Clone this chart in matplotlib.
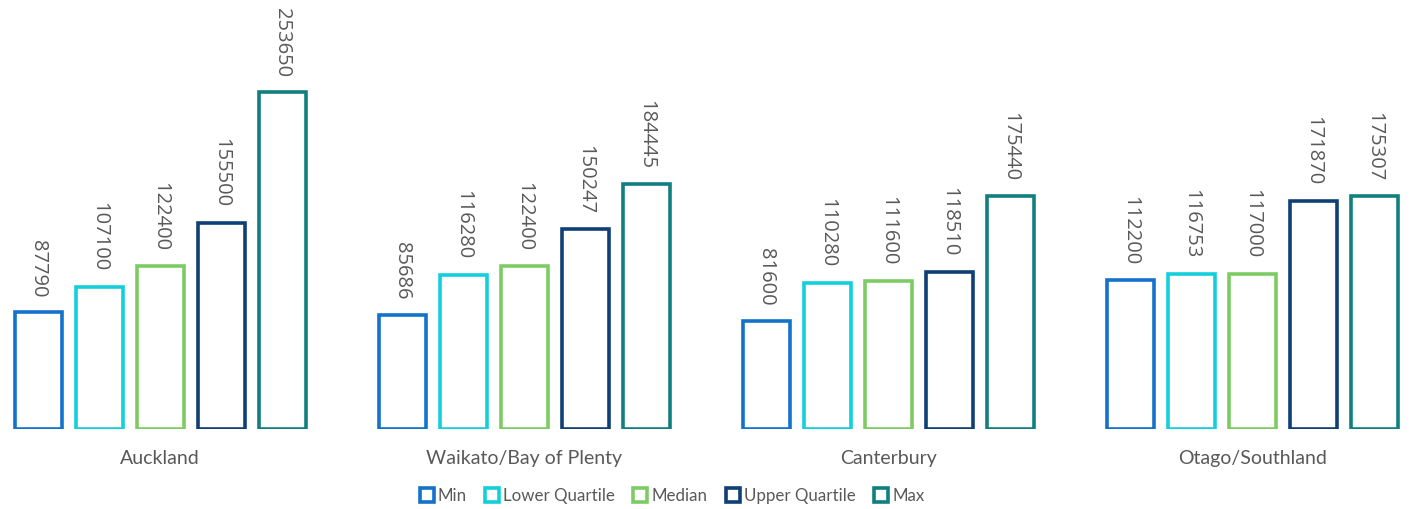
import numpy as np
import matplotlib.pyplot as plt
from matplotlib.lines import Line2D

regions = ["Auckland", "Waikato/Bay of Plenty", "Canterbury", "Otago/Southland"]
series = ["Min", "Lower Quartile", "Median", "Upper Quartile", "Max"]
min_vals = [87790, 85686, 81600, 112200]
lower_q = [107100, 116280, 110280, 116753]
median_vals = [122400, 122400, 111600, 117000]
upper_q = [155500, 150247, 118510, 171870]
max_vals = [253650, 184445, 175440, 175307]

colors = ["#1272CC", "#12CFDB", "#7DCB63", "#0E3F75", "#117E80"]
text_grey = "#595959"

fig = plt.figure(figsize=(14.16, 5.09), dpi=100)
ax = fig.add_axes([0, 0.157, 1, 0.783])

x = np.arange(len(regions))
step = 0.1676
width = 0.129
all_vals = [min_vals, lower_q, median_vals, upper_q, max_vals]

# outlined bars, one series per colour, value written sideways above each
for i, (vals, col) in enumerate(zip(all_vals, colors)):
    pos = x + (i - 2) * step
    ax.bar(pos, vals, width=width, facecolor="white", edgecolor=col,
           linewidth=2.6)
    for px, v in zip(pos, vals):
        ax.annotate(str(v), (px, v), xytext=(0, 11), textcoords="offset points",
                    rotation=270, ha="center", va="bottom", fontsize=14.5,
                    color=text_grey, family="Open Sans", annotation_clip=False)

ax.set_xlim(-0.44, 3.45)
ax.set_ylim(0, 300000)
ax.axis("off")

for xi, name in zip(x, regions):
    ax.text(xi, -0.073, name, transform=ax.get_xaxis_transform(), ha="center",
            va="center", fontsize=14, color=text_grey, family="Lato")

handles = [Line2D([], [], marker="s", linestyle="none", markersize=9.5,
                  markerfacecolor="white", markeredgecolor=c,
                  markeredgewidth=2.6) for c in colors]
fig.legend(handles, series, loc="center", bbox_to_anchor=(0.474, 0.026),
           ncol=5, frameon=False, handletextpad=0.15, columnspacing=1.0,
           prop={"family": "Lato", "size": 12.2}, labelcolor=text_grey,
           handlelength=1.0)

fig.savefig("out.png", dpi=100)
